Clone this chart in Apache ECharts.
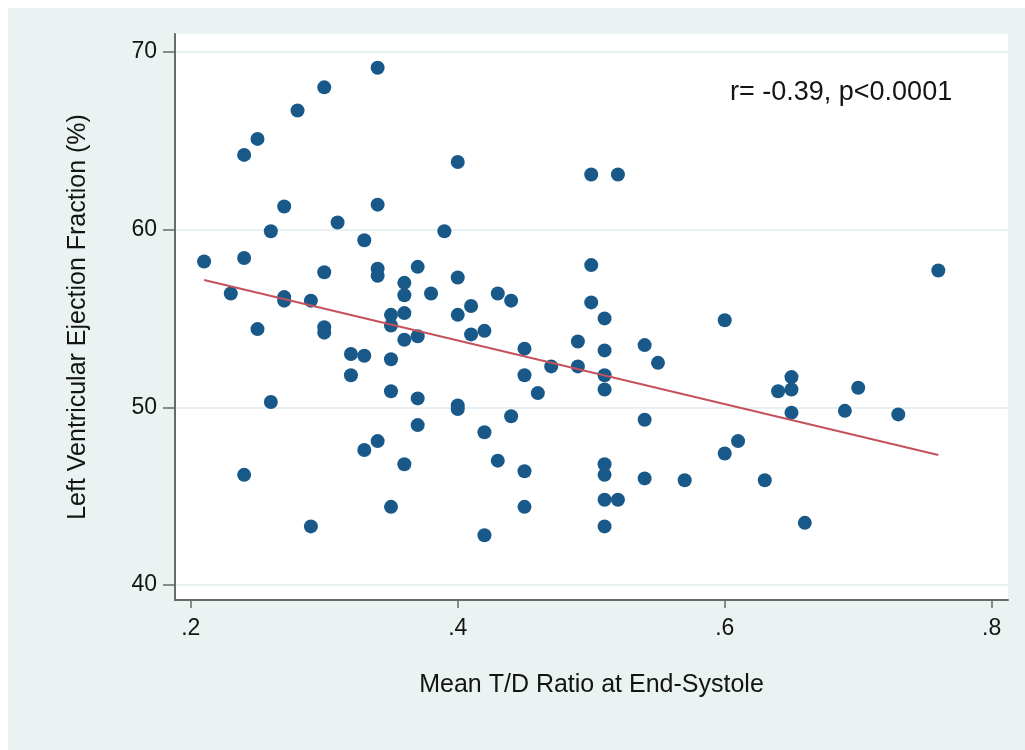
<!DOCTYPE html>
<html>
<head>
<meta charset="utf-8">
<script src="https://cdn.jsdelivr.net/npm/echarts@6/dist/echarts.min.js"></script>
<style>
html,body{margin:0;padding:0;background:#fff;}
#chart{width:1025px;height:750px;}
</style>
</head>
<body>
<div id="chart"></div>
<script>
// Mean T/D ratio at end-systole (x) and LVEF % (y)
var tdRatio = [
  0.21, 0.23, 0.24, 0.24, 0.24, 0.25, 0.25, 0.26, 0.26, 0.27, 0.27, 0.27,
  0.28, 0.29, 0.29, 0.30, 0.30, 0.30, 0.30, 0.31, 0.32, 0.32, 0.33, 0.33, 0.33,
  0.34, 0.34, 0.34, 0.34, 0.34, 0.35, 0.35, 0.35, 0.35, 0.35,
  0.36, 0.36, 0.36, 0.36, 0.36, 0.37, 0.37, 0.37, 0.37, 0.38, 0.39,
  0.40, 0.40, 0.40, 0.40, 0.40, 0.41, 0.41, 0.42, 0.42, 0.42, 0.43, 0.43,
  0.44, 0.44, 0.45, 0.45, 0.45, 0.45, 0.46, 0.47, 0.49, 0.49,
  0.50, 0.50, 0.50, 0.51, 0.51, 0.51, 0.51, 0.51, 0.51, 0.51, 0.51,
  0.52, 0.52, 0.54, 0.54, 0.54, 0.55, 0.57, 0.60, 0.60, 0.61, 0.63, 0.64,
  0.65, 0.65, 0.65, 0.66, 0.69, 0.70, 0.73, 0.76
];
var lvef = [
  58.2, 56.4, 64.2, 58.4, 46.2, 65.1, 54.4, 59.9, 50.3, 61.3, 56.2, 56.0,
  66.7, 56.0, 43.3, 68.0, 57.6, 54.5, 54.2, 60.4, 53.0, 51.8, 59.4, 52.9, 47.6,
  69.1, 61.4, 57.8, 57.4, 48.1, 55.2, 54.6, 52.7, 50.9, 44.4,
  57.0, 56.3, 55.3, 53.8, 46.8, 57.9, 54.0, 50.5, 49.0, 56.4, 59.9,
  63.8, 57.3, 55.2, 50.1, 49.9, 55.7, 54.1, 54.3, 48.6, 42.8, 56.4, 47.0,
  56.0, 49.5, 53.3, 51.8, 46.4, 44.4, 50.8, 52.3, 53.7, 52.3,
  63.1, 58.0, 55.9, 55.0, 53.2, 51.8, 51.0, 46.8, 46.2, 44.8, 43.3,
  63.1, 44.8, 53.5, 49.3, 46.0, 52.5, 45.9, 54.9, 47.4, 48.1, 45.9, 50.9,
  51.7, 51.0, 49.7, 43.5, 49.8, 51.1, 49.6, 57.7
];
// fitted regression line end points
var fitX = [0.21, 0.76];
var fitY = [57.16, 47.32];
// tick values and labels
var xTicks = [0.2, 0.4, 0.6, 0.8];
var xTickLabels = ['.2', '.4', '.6', '.8'];
var yTicks = [40, 50, 60, 70];
var annotation = 'r= -0.39, p<0.0001';
var xTitle = 'Mean T/D Ratio at End-Systole';
var yTitle = 'Left Ventricular Ejection Fraction (%)';

var points = tdRatio.map(function (x, i) { return [x, lvef[i]]; });
var fitLine = fitX.map(function (x, i) { return [x, fitY[i]]; });

var FONT = 'Liberation Sans, Arial, Helvetica, sans-serif';
var TXT = '#141414';
var chart = echarts.init(document.getElementById('chart'), null, {renderer: 'canvas'});
chart.setOption({
  backgroundColor: '#ffffff',
  animation: false,
  graphic: [
    {type: 'rect', left: 8, top: 8, shape: {width: 1017, height: 742}, style: {fill: '#eaf2f2'}, z: -10, silent: true},
    {type: 'text', left: 730, top: 79, style: {text: annotation, font: '27px ' + FONT, fill: TXT}, z: 10}
  ],
  grid: {left: 175, top: 34, width: 833, height: 566, show: true, backgroundColor: '#ffffff', borderWidth: 0},
  xAxis: {
    type: 'value', min: 0.1882, max: 0.8122,
    name: xTitle, nameLocation: 'middle', nameGap: 73,
    nameTextStyle: {fontFamily: FONT, fontSize: 25, color: TXT},
    axisLine: {show: true, onZero: false, lineStyle: {color: '#6a6a6a', width: 2}},
    axisTick: {show: true, length: 8, customValues: xTicks, lineStyle: {color: '#6a6a6a', width: 1.5}},
    axisLabel: {customValues: xTicks, margin: 17, fontFamily: FONT, fontSize: 23, color: TXT,
      formatter: function (v) { var i = xTicks.indexOf(Math.round(v * 10) / 10); return i >= 0 ? xTickLabels[i] : ''; }},
    splitLine: {show: false}
  },
  yAxis: {
    type: 'value', min: 39.16, max: 71.0,
    name: yTitle, nameLocation: 'middle', nameGap: 84,
    nameTextStyle: {fontFamily: FONT, fontSize: 25, color: TXT, padding: [0, 0, 0, 0]},
    axisLine: {show: true, onZero: false, lineStyle: {color: '#6a6a6a', width: 2}},
    axisTick: {show: true, length: 12, customValues: yTicks, lineStyle: {color: '#6a6a6a', width: 1.5}},
    axisLabel: {customValues: yTicks, margin: 18, fontFamily: FONT, fontSize: 23, color: TXT},
    splitLine: {show: true, lineStyle: {color: '#e8f0f1', width: 2}}
  },
  series: [
    {
      type: 'scatter', data: points, symbol: 'circle', symbolSize: 14,
      itemStyle: {color: '#18598a', opacity: 1}, z: 3
    },
    {
      type: 'line', data: fitLine, showSymbol: false, symbol: 'none',
      lineStyle: {color: '#c4525c', width: 2}, z: 4
    }
  ]
});
</script>
</body>
</html>
